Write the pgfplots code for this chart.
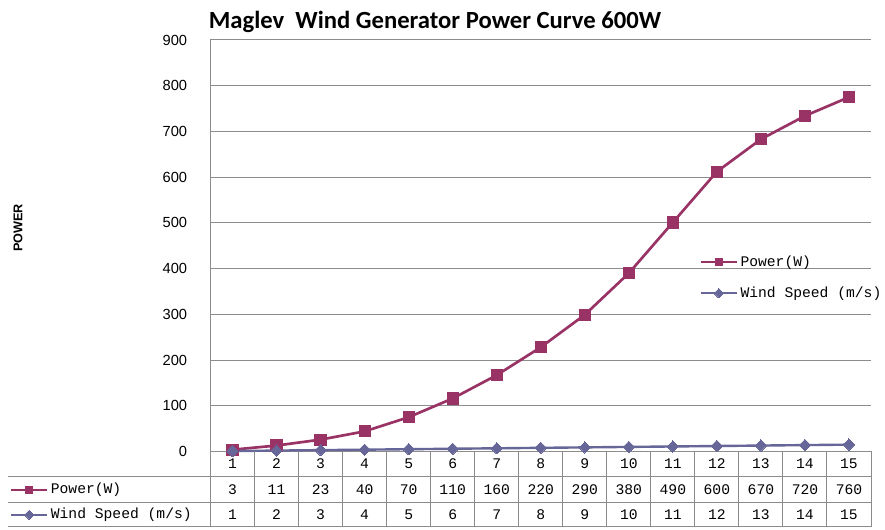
\documentclass[border=0pt]{standalone}
\usepackage{pgfplots}
\pgfplotsset{compat=1.18}
\usepackage{fontspec}
\setmainfont{Liberation Sans}
\newfontfamily\titlefont{Carlito}
\newfontfamily\tabfont{Liberation Mono}
\definecolor{pw}{HTML}{993366}
\definecolor{ws}{HTML}{666699}
\definecolor{gridc}{HTML}{8C8C8C}
\newcommand{\tabsize}{\tabfont\fontsize{11}{13}\selectfont}
\pgfplotsset{
  pwstyle/.style={color=pw, line width=2pt, mark=square*, mark size=4.2pt, mark options={solid, line width=0pt}},
  wsstyle/.style={color=ws, line width=1.8pt, mark=square*, mark size=3pt, mark options={solid, rotate=45, line width=0pt}},
  common/.style={
    at={(0,0)}, anchor=south west, scale only axis,
    width=495.375pt, height=308.625pt,
    /pgf/number format/assume math mode=true,
    legend cell align=left,
    legend image code/.code={\draw[##1, line width=1.5pt, mark size=2.5pt, mark repeat=2, mark phase=2] plot coordinates {(0pt,0pt) (13.5pt,0pt) (27pt,0pt)};},
  },
}
\begin{document}
\begin{tikzpicture}[x=1pt,y=1pt]
\useasboundingbox (-157.875pt,-58.875pt) rectangle (505.875pt,338.625pt);
\begin{axis}[common,
  xmin=0.5, xmax=15.5, ymin=0, ymax=900,
  ytick={0,100,...,900},
  xtick={1,...,15},
  xticklabel style={font=\tabsize, anchor=center, yshift=-9.4pt},
  yticklabel style={font=\fontsize{11}{13}\selectfont, xshift=-14pt},
  major tick style={draw=none},
  ymajorgrids, grid style={gridc, line width=0.75pt},
  axis lines*=left, axis line style={-, gridc, line width=0.75pt},
  clip=false,
  stack plots=y,
  reverse legend,
  legend style={draw=none, fill=none, inner sep=0pt, at={(0.7405,0.48)}, anchor=north west,
    row sep=11.25pt, column sep=1pt,
    nodes={inner sep=1pt, font=\tabsize, text height=8pt, text depth=2pt}},
]
\addplot[wsstyle] coordinates {(1,1)(2,2)(3,3)(4,4)(5,5)(6,6)(7,7)(8,8)(9,9)(10,10)(11,11)(12,12)(13,13)(14,14)(15,15)};
\addlegendentry{Wind Speed (m/s)}
\addplot[pwstyle] coordinates {(1,3)(2,11)(3,23)(4,40)(5,70)(6,110)(7,160)(8,220)(9,290)(10,380)(11,490)(12,600)(13,670)(14,720)(15,760)};
\addlegendentry{Power(W)}
\end{axis}
\begin{axis}[common, hide axis, xmin=0, xmax=1, ymin=0, ymax=1,
  legend style={draw=none, fill=none, inner sep=0pt, at={(-0.3036,-0.0729)}, anchor=north west,
    row sep=6.75pt, column sep=1pt,
    nodes={inner sep=1pt, font=\tabsize, text height=8pt, text depth=2pt}},
]
\addlegendimage{pwstyle}\addlegendentry{Power(W)}
\addlegendimage{wsstyle}\addlegendentry{Wind Speed (m/s)}
\end{axis}
% data table grid
\begin{scope}[gridc, line width=0.75pt]
\foreach \yy in {-18.9,-37.9,-56.6} \draw (-151.9pt,\yy pt) -- (495.375pt,\yy pt);
\foreach \k in {0,...,15} \draw ({\k*33.025pt},0pt) -- ({\k*33.025pt},-56.6pt);
\end{scope}
\foreach \v [count=\i] in {3,11,23,40,70,110,160,220,290,380,490,600,670,720,760}
  \node[font=\tabsize, inner sep=0pt] at ({(\i-0.5)*33.025pt},-28.5pt) {\v};
\foreach \v [count=\i] in {1,2,3,4,5,6,7,8,9,10,11,12,13,14,15}
  \node[font=\tabsize, inner sep=0pt] at ({(\i-0.5)*33.025pt},-47.25pt) {\v};
\node[font=\titlefont\bfseries\fontsize{18.5}{22}\selectfont] at (168.4pt,322.5pt) {Maglev\ \ Wind Generator Power Curve 600W};
\node[font=\bfseries\fontsize{9.5}{11}\selectfont, rotate=90] at (-144.4pt,167.6pt) {POWER};
\end{tikzpicture}
\end{document}
